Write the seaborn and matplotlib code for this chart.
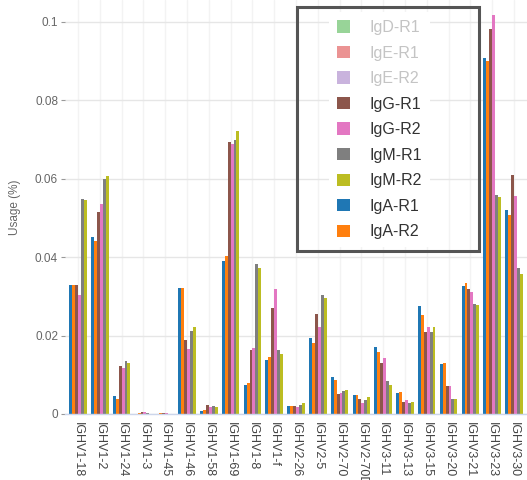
import numpy as np
import pandas as pd
import seaborn as sns
import matplotlib.pyplot as plt
from matplotlib.patches import Patch, Rectangle

# genes on the x axis
genes = ['IGHV1-18', 'IGHV1-2', 'IGHV1-24', 'IGHV1-3', 'IGHV1-45', 'IGHV1-46',
         'IGHV1-58', 'IGHV1-69', 'IGHV1-8', 'IGHV1-f', 'IGHV2-26', 'IGHV2-5',
         'IGHV2-70', 'IGHV2-70D', 'IGHV3-11', 'IGHV3-13', 'IGHV3-15', 'IGHV3-20',
         'IGHV3-21', 'IGHV3-23', 'IGHV3-30']

# usage (%) per visible series
iga_r1 = [0.0329, 0.0452, 0.0046, 0.0001, 0.0001, 0.0321, 0.0008, 0.0390, 0.0074, 0.0139, 0.0020,
          0.0193, 0.0094, 0.0048, 0.0170, 0.0053, 0.0276, 0.0128, 0.0327, 0.0907, 0.0520]
iga_r2 = [0.0329, 0.0442, 0.0038, 0.0002, 0.0002, 0.0322, 0.0010, 0.0404, 0.0078, 0.0145, 0.0020,
          0.0182, 0.0087, 0.0048, 0.0157, 0.0056, 0.0253, 0.0131, 0.0333, 0.0901, 0.0508]
igg_r1 = [0.0328, 0.0516, 0.0123, 0.0004, 0.0002, 0.0189, 0.0023, 0.0693, 0.0162, 0.0270, 0.0020,
          0.0255, 0.0050, 0.0037, 0.0129, 0.0031, 0.0210, 0.0071, 0.0318, 0.0981, 0.0610]
igg_r2 = [0.0304, 0.0535, 0.0117, 0.0005, 0.0002, 0.0166, 0.0019, 0.0689, 0.0168, 0.0318, 0.0019,
          0.0223, 0.0053, 0.0027, 0.0142, 0.0035, 0.0221, 0.0071, 0.0310, 0.1018, 0.0556]
igm_r1 = [0.0548, 0.0599, 0.0135, 0.0002, 0.0001, 0.0212, 0.0021, 0.0699, 0.0382, 0.0162, 0.0023,
          0.0304, 0.0059, 0.0036, 0.0083, 0.0027, 0.0210, 0.0038, 0.0281, 0.0559, 0.0372]
igm_r2 = [0.0546, 0.0607, 0.0129, 0.0001, 0.0001, 0.0223, 0.0019, 0.0723, 0.0373, 0.0153, 0.0029,
          0.0297, 0.0061, 0.0043, 0.0073, 0.0031, 0.0223, 0.0038, 0.0279, 0.0553, 0.0357]

series = ['IgA-R1', 'IgA-R2', 'IgG-R1', 'IgG-R2', 'IgM-R1', 'IgM-R2']
colors = ['#1f77b4', '#ff7f0e', '#8c564b', '#e377c2', '#7f7f7f', '#bcbd22']

# legend entries (IgD / IgE are hidden series, drawn faded)
legend_names = ['IgD-R1', 'IgE-R1', 'IgE-R2', 'IgG-R1', 'IgG-R2', 'IgM-R1', 'IgM-R2', 'IgA-R1', 'IgA-R2']
legend_colors = ['#98d498', '#eb9393', '#c9b3dd', '#8c564b', '#e377c2', '#7f7f7f', '#bcbd22',
                 '#1f77b4', '#ff7f0e']
legend_hidden = [True, True, True, False, False, False, False, False, False]

df = pd.DataFrame({'gene': genes, 'IgA-R1': iga_r1, 'IgA-R2': iga_r2, 'IgG-R1': igg_r1,
                   'IgG-R2': igg_r2, 'IgM-R1': igm_r1, 'IgM-R2': igm_r2})
long = df.melt(id_vars='gene', var_name='series', value_name='usage')

sns.set_style('white')
plt.rcParams['font.family'] = ['Liberation Sans', 'DejaVu Sans']

fig = plt.figure(figsize=(5.27, 4.8), dpi=100)
ax = fig.add_axes([65 / 527, 1 - 414 / 480, 462 / 527, 414 / 480])

sns.barplot(data=long, x='gene', y='usage', hue='series', hue_order=series,
            palette=colors, order=genes, width=0.8, saturation=1, linewidth=0,
            legend=False, ax=ax)

ax.set_xlim(-0.6, 20.6)
ax.set_ylim(0, 0.1056)
ax.set_yticks([0, 0.02, 0.04, 0.06, 0.08, 0.1])
ax.set_yticklabels(['0', '0.02', '0.04', '0.06', '0.08', '0.1'])
ax.grid(axis='y', color='#e6e6e6', lw=1)
ax.grid(axis='x', color='#f3f3f3', lw=1)
ax.set_axisbelow(True)
for s in ['top', 'right', 'left']:
    ax.spines[s].set_visible(False)
ax.spines['bottom'].set_color('#ccd6eb')
ax.spines['bottom'].set_linewidth(1)

ax.tick_params(axis='y', labelsize=8.5, labelcolor='#666666', color='#999999',
               length=3, width=0.8, left=True, pad=2)
ax.tick_params(axis='x', labelsize=9, labelcolor='#444444', length=0, pad=6)
plt.setp(ax.get_xticklabels(), rotation=-90, va='top', ha='center')
ax.set_xlabel('')
ax.set_ylabel('Usage (%)', fontsize=8.5, color='#666666', labelpad=10)

handles = [Patch(facecolor=c, edgecolor='none') for c in legend_colors]
leg = ax.legend(handles, legend_names, loc='upper left',
                bbox_to_anchor=(321 / 527, 1 - 4 / 480), bbox_transform=fig.transFigure,
                fontsize=11.5, handlelength=0.8, handleheight=0.8, handletextpad=1.22,
                labelspacing=0.66, borderpad=0.5, frameon=True, fancybox=False,
                facecolor='white', edgecolor='none', framealpha=1)
for txt, hid in zip(leg.get_texts(), legend_hidden):
    txt.set_color('#c4c4c4' if hid else '#333333')

# outer legend box
fig.patches.append(Rectangle((297 / 527, 1 - 251 / 480), 182 / 527, 244 / 480,
                             transform=fig.transFigure, facecolor='none',
                             edgecolor='#555555', lw=2.2, zorder=10))

fig.savefig('out.png', dpi=100)
